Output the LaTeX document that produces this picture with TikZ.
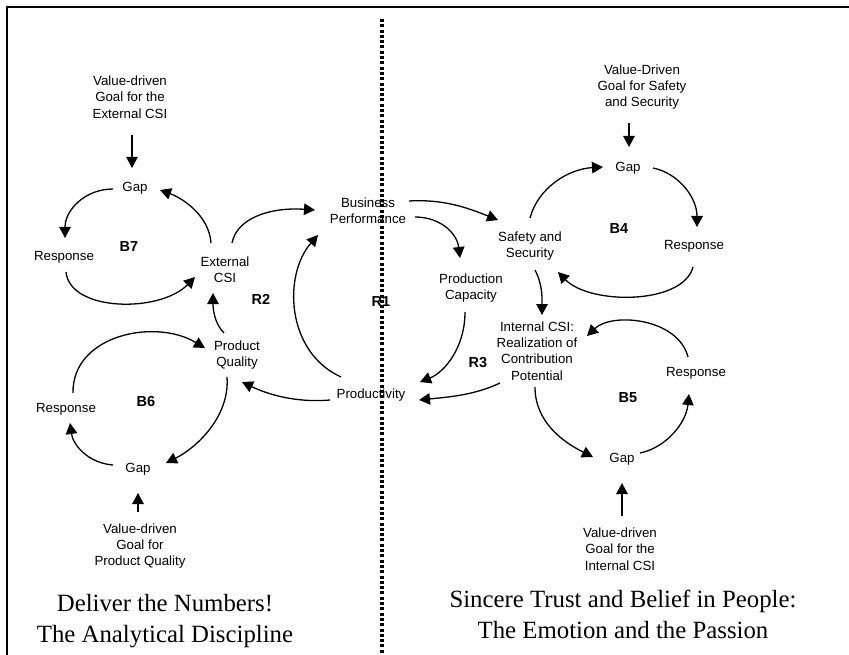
\documentclass[tikz,border=0pt]{standalone}
\usepackage{fontspec}
\setmainfont{Liberation Serif}
\setsansfont{Liberation Sans}
\usetikzlibrary{arrows.meta,calc}
\begin{document}
\begin{tikzpicture}[x=1pt,y=-1pt,
  lbl/.style={font=\sffamily\fontsize{13.3}{16.3}\selectfont, align=center, inner sep=0pt},
  loopname/.style={font=\sffamily\bfseries\fontsize{14.5}{17}\selectfont, inner sep=0pt},
  ttl/.style={font=\rmfamily\fontsize{24.8}{31}\selectfont, align=center, inner sep=0pt},
  arr/.style={-{Triangle[length=11pt,width=11.5pt]}, line width=1.3pt},
  frame/.style={line width=2pt},
  divider/.style={line width=3.2pt, dash pattern=on 3pt off 2.3pt}]
\useasboundingbox (0,0) rectangle (849,655);
\draw[frame] (849,7) -- (7,7) -- (7,655);

% left side
\node[lbl] (goal7) at (130,97) {Value-driven\\Goal for the\\External CSI};
\node[lbl] (gap7) at (135,188) {Gap};
\node[lbl] (resp7) at (64,257) {Response};
\node[loopname] (b7) at (129,247) {B7};
\node[lbl] (ext) at (225,270) {External\\CSI};
\node[loopname] (r2) at (261,299) {R2};
\node[lbl] (pq) at (237,355) {Product\\Quality};
\node[lbl] (resp6) at (66,409) {Response};
\node[loopname] (b6) at (146,402) {B6};
\node[lbl] (gap6) at (138,469) {Gap};
\node[lbl] (goal6) at (140,546) {Value-driven\\Goal for\\Product Quality};
\node[ttl] (tleft) at (165,621) {Deliver the Numbers!\\The Analytical Discipline};

% centre
\node[lbl] (bp) at (368,211) {Business\\Performance};
\node[loopname] (r1) at (381,302) {R1};
\node[lbl] (pcap) at (471,288) {Production\\Capacity};
\node[loopname] (r3) at (478,363) {R3};
\node[lbl] (prod) at (371,395) {Productivity};

% right side
\node[lbl] (safety) at (530,246) {Safety and\\Security};
\node[lbl] (icsi) at (537,351) {Internal CSI:\\Realization of\\Contribution\\Potential};
\node[lbl] (goal4) at (642,87) {Value-Driven\\Goal for Safety\\and Security};
\node[lbl] (gap4) at (628,168) {Gap};
\node[loopname] (b4) at (619,229) {B4};
\node[lbl] (resp4) at (694,246) {Response};
\node[lbl] (resp5) at (696,373) {Response};
\node[loopname] (b5) at (628,398) {B5};
\node[lbl] (gap5) at (622,459) {Gap};
\node[lbl] (goal5) at (620,549) {Value-driven\\Goal for the\\Internal CSI};
\node[ttl] (tright) at (623,614) {Sincere Trust and Belief in People:\\The Emotion and the Passion};

% B7 loop
\draw[arr] ($(goal7)+(2,38)$) -- ($(gap7)+(-3,-20)$);
\draw[arr] ($(gap7)+(-22,1)$) .. controls +(-28,0) and +(0,-28) .. ($(resp7)+(1,-19)$);
\draw[arr] ($(resp7)+(2,15)$) .. controls +(4,40) and +(-35,36) .. ($(ext)+(-30,7)$);
\draw[arr] ($(ext)+(-14,-27)$) .. controls +(-2,-28) and +(22,8) .. ($(gap7)+(25,2)$);
% R2 / R1
\draw[arr] ($(ext)+(7,-27)$) .. controls +(5,-25) and +(-45,-3) .. ($(bp)+(-53,-1)$);
\draw[arr] ($(pq)+(-13,-22)$) .. controls +(-10,-10) and +(0,15) .. ($(ext)+(-12,23)$);
\draw[arr] ($(prod)+(-30,-18)$) .. controls +(-55,-25) and +(-35,40) .. ($(bp)+(-50,24)$);
\draw[arr] ($(prod)+(-41,5)$) .. controls +(-35,3) and +(25,12) .. ($(pq)+(5,27)$);
% R3 and links
\draw[arr] ($(bp)+(41,-10)$) .. controls +(35,-2) and +(-30,-12) .. ($(safety)+(-32,-26)$);
\draw[arr] ($(bp)+(47,6)$) .. controls +(25,0) and +(-3,-25) .. ($(pcap)+(-11,-30)$);
\draw[arr] ($(pcap)+(-6,24)$) .. controls +(0,35) and +(25,-10) .. ($(prod)+(49,-13)$);
\draw[arr] ($(icsi)+(-37,32)$) .. controls +(-25,12) and +(30,-3) .. ($(prod)+(48,5)$);
\draw[arr] ($(safety)+(5,24)$) .. controls +(8,15) and +(0,-15) .. ($(icsi)+(5,-36)$);
% B6 loop
\draw[arr] ($(resp6)+(7,-16)$) .. controls +(-1,-58) and +(-50,-30) .. ($(pq)+(-32,-7)$);
\draw[arr] ($(pq)+(-10,22)$) .. controls +(3,40) and +(30,-15) .. ($(gap6)+(28,-6)$);
\draw[arr] ($(gap6)+(-25,-4)$) .. controls +(-25,-2) and +(3,22) .. ($(resp6)+(4,14)$);
\draw[arr] ($(goal6)+(-2,-34)$) -- ($(gap6)+(0,24)$);
% B4 loop
\draw[arr] ($(goal4)+(-13,36)$) -- ($(gap4)+(1,-21)$);
\draw[arr] ($(safety)+(0,-28)$) .. controls +(8,-30) and +(-35,2) .. ($(gap4)+(-25,-1)$);
\draw[arr] ($(gap4)+(25,0)$) .. controls +(25,5) and +(0,-30) .. ($(resp4)+(3,-19)$);
\draw[arr] ($(resp4)+(-1,21)$) .. controls +(-10,38) and +(32,33) .. ($(safety)+(28,26)$);
% B5 loop
\draw[arr] ($(resp5)+(-8,-16)$) .. controls +(-10,-39) and +(25,-24) .. ($(icsi)+(50,-15)$);
\draw[arr] ($(icsi)+(-2,36)$) .. controls +(0,35) and +(-30,-15) .. ($(gap5)+(-29,-2)$);
\draw[arr] ($(gap5)+(18,-6)$) .. controls +(25,-5) and +(-3,30) .. ($(resp5)+(-7,21)$);
\draw[arr] ($(goal5)+(2,-33)$) -- ($(gap5)+(0,24)$);

% divider
\coordinate (dtop) at (382,19);
\coordinate (dbot) at (382,655);
\draw[divider] (dtop) -- (dbot);
\end{tikzpicture}
\end{document}
